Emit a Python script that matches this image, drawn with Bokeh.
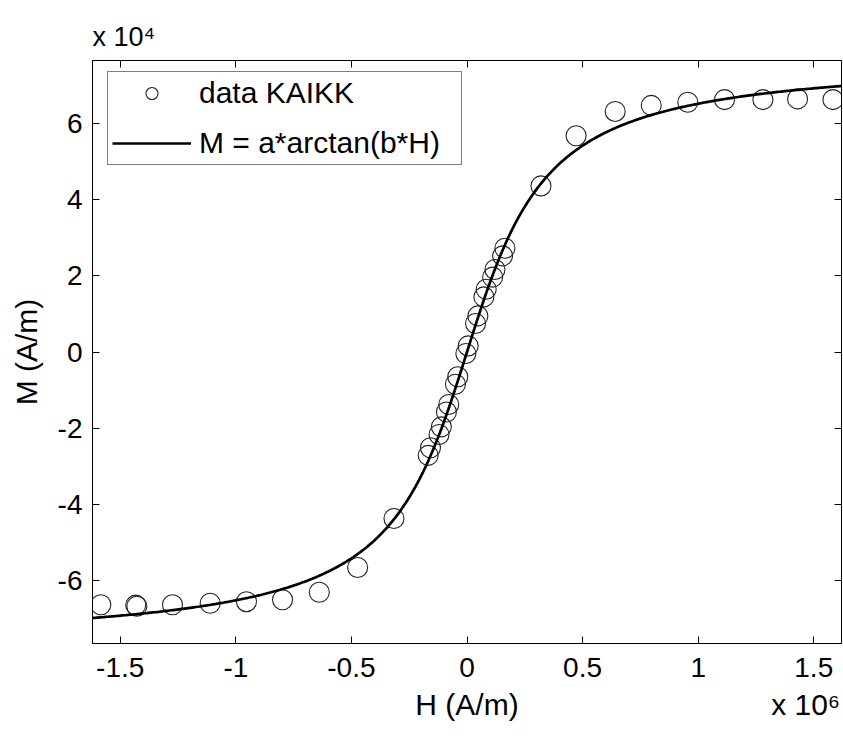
import numpy as np
from bokeh.plotting import figure
from bokeh.models import (Range1d, LinearAxis, FixedTicker, CustomJSTickFormatter,
                          Legend, LegendItem)
from bokeh.embed import file_html
from bokeh.resources import INLINE

# ---- data (H in A/m, M in A/m) ----
H_outer_neg = [-1.584e6, -1.433e6, -1.274e6, -1.111e6, -0.954e6, -0.798e6, -0.639e6, -0.473e6, -0.316e6]
M_outer_neg = [-6.65e4, -6.66e4, -6.65e4, -6.61e4, -6.57e4, -6.52e4, -6.32e4, -5.67e4, -4.38e4]

H_center_up = [-0.158e6, -0.111e6, -0.079e6, -0.040e6, 0.005e6, 0.047e6, 0.083e6, 0.121e6, 0.164e6]
M_center_up = [-2.52e4, -1.97e4, -1.38e4, -0.65e4, 0.16e4, 0.95e4, 1.65e4, 2.17e4, 2.73e4]

H_center_down = [-0.168e6, -0.121e6, -0.089e6, -0.050e6, -0.005e6, 0.037e6, 0.073e6, 0.111e6, 0.154e6]
M_center_down = [-2.72e4, -2.17e4, -1.58e4, -0.85e4, -0.04e4, 0.75e4, 1.45e4, 1.97e4, 2.53e4]

H_outer_pos = [0.320e6, 0.472e6, 0.641e6, 0.797e6, 0.955e6, 1.114e6, 1.280e6, 1.430e6, 1.583e6]
M_outer_pos = [4.37e4, 5.69e4, 6.33e4, 6.49e4, 6.57e4, 6.64e4, 6.64e4, 6.66e4, 6.64e4]

H_extra = [-1.428e6]
M_extra = [-6.69e4]

# fit parameters of M = a*arctan(b*H)
A_FIT = 4.95e4
B_FIT = 3.9e-6
H_MIN, H_MAX = -1.62e6, 1.62e6
M_MIN, M_MAX = -7.67e4, 7.67e4

x_ticks = [-1.5e6, -1.0e6, -0.5e6, 0.0, 0.5e6, 1.0e6, 1.5e6]
y_ticks = [-6e4, -4e4, -2e4, 0.0, 2e4, 4e4, 6e4]

# texts under the x axis: axis title and the x-axis exponent, with their H anchor
xlabel_pos = [0.0, 1.465e6]
xlabel_txt = ["H (A/m)", "x 10\u2076"]
y_exponent = "x 10\u2074"

H_data = H_outer_neg + H_center_up + H_center_down + H_outer_pos + H_extra
M_data = M_outer_neg + M_center_up + M_center_down + M_outer_pos + M_extra

H_fit = np.linspace(H_MIN, H_MAX, 400)
M_fit = A_FIT * np.arctan(B_FIT * H_fit)

FONT = "Liberation Sans"

p = figure(frame_width=749, frame_height=583,
           x_range=Range1d(H_MIN, H_MAX), y_range=Range1d(M_MIN, M_MAX),
           output_backend="svg", toolbar_location=None,
           min_border_left=92, min_border_top=60, min_border_right=2, min_border_bottom=93)
p.background_fill_color = "white"
p.border_fill_color = "white"
p.outline_line_color = "black"
p.outline_line_width = 1
p.grid.visible = False

sc = p.scatter(H_data, M_data, marker="circle", size=20, fill_color=None,
               line_color="#222222", line_width=1.1)
ln = p.line(H_fit, M_fit, line_color="black", line_width=2.7)

xfmt = CustomJSTickFormatter(code="return String(Math.round(tick/1e5)/10);")
yfmt = CustomJSTickFormatter(code="return String(Math.round(tick/1e4));")
blank = CustomJSTickFormatter(code="return '';")

def style_axis(ax, ticks, fmt, standoff, size="28px"):
    ax.ticker = FixedTicker(ticks=ticks, minor_ticks=[])
    ax.formatter = fmt
    ax.major_tick_in = 7
    ax.major_tick_out = 0
    ax.minor_tick_in = 0
    ax.minor_tick_out = 0
    ax.axis_line_color = "black"
    ax.major_tick_line_color = "black"
    ax.major_label_text_font = FONT
    ax.major_label_text_font_size = size
    ax.major_label_text_color = "black"
    ax.major_label_standoff = standoff
    ax.axis_label_text_font = FONT
    ax.axis_label_text_font_size = "30px"
    ax.axis_label_text_font_style = "normal"
    ax.axis_label_text_color = "black"

style_axis(p.xaxis[0], x_ticks, xfmt, 14)
style_axis(p.yaxis[0], y_ticks, yfmt, 10)
p.yaxis[0].axis_label = "M (A/m)"
p.yaxis[0].axis_label_standoff = 12

top_ax = LinearAxis()
style_axis(top_ax, x_ticks, blank, 0, "1px")
right_ax = LinearAxis()
style_axis(right_ax, y_ticks, blank, 0, "1px")
p.add_layout(top_ax, "above")
p.add_layout(right_ax, "right")

# second bottom axis that only carries the x-axis title and the exponent
lab_fmt = CustomJSTickFormatter(args=dict(pos=xlabel_pos, txt=xlabel_txt), code="""
let best = 0;
for (let i = 1; i < pos.length; i++) {
  if (Math.abs(pos[i] - tick) < Math.abs(pos[best] - tick)) best = i;
}
return txt[best];
""")
lab_ax = LinearAxis()
style_axis(lab_ax, xlabel_pos, lab_fmt, 8, "30px")
lab_ax.axis_line_color = None
lab_ax.major_tick_line_color = None
lab_ax.major_tick_in = 0
p.add_layout(lab_ax, "below")

legend = Legend(items=[LegendItem(label="data KAIKK", renderers=[sc]),
                       LegendItem(label="M = a*arctan(b*H)", renderers=[ln])],
                location=(15, 478))
legend.label_text_font = FONT
legend.label_text_font_size = "30px"
legend.label_text_color = "black"
legend.glyph_width = 79
legend.glyph_height = 30
legend.label_height = 30
legend.label_width = 258
legend.spacing = 16
legend.padding = 4
legend.margin = 0
legend.label_standoff = 8
legend.border_line_color = "black"
legend.border_line_width = 1
legend.background_fill_color = "white"
legend.background_fill_alpha = 1.0
p.add_layout(legend)

# exponent of the y axis
p.title.text = y_exponent
p.title.align = "left"
p.title.text_font = FONT
p.title.text_font_size = "27px"
p.title.text_font_style = "normal"
p.title.text_color = "black"
p.title.standoff = 17

open("out.html", "w").write(file_html(p, INLINE))
